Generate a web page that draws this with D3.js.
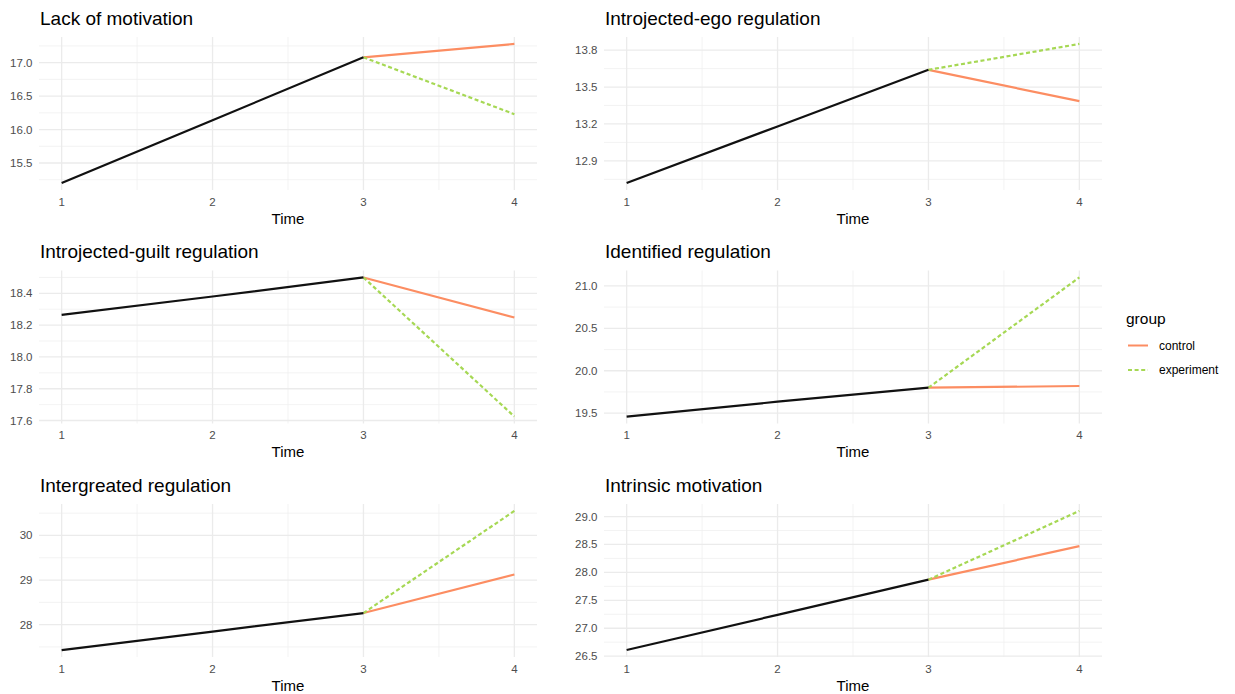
<!DOCTYPE html>
<html>
<head>
<meta charset="utf-8">
<script src="https://cdn.jsdelivr.net/npm/d3@7"></script>
<style>
  body { margin: 0; background: #fff; }
  svg { font-family: "Liberation Sans", Arial, sans-serif; }
</style>
</head>
<body>
<div id="chart"></div>
<script>
// panel titles, in facet order (left to right, top to bottom)
var titles = ["Lack of motivation", "Introjected-ego regulation", "Introjected-guilt regulation",
              "Identified regulation", "Intergreated regulation", "Intrinsic motivation"];

var times = [1, 2, 3, 4];
var preTimes = [1, 2, 3];

// shared trajectory for time 1..3
var preValues = [
  [15.20, 16.14, 17.08],
  [12.72, 13.18, 13.64],
  [18.265, 18.38, 18.50],
  [19.46, 19.635, 19.80],
  [27.43, 27.845, 28.26],
  [26.61, 27.24, 27.87]
];
// time 4 by group
var controlT4 = [17.28, 13.385, 18.248, 19.82, 29.125, 28.47];
var experimentT4 = [16.23, 13.85, 17.625, 21.10, 30.55, 29.10];

var yTicks = [
  [15.5, 16.0, 16.5, 17.0],
  [12.9, 13.2, 13.5, 13.8],
  [17.6, 17.8, 18.0, 18.2, 18.4],
  [19.5, 20.0, 20.5, 21.0],
  [28, 29, 30],
  [26.5, 27.0, 27.5, 28.0, 28.5, 29.0]
];
var yDigits = [1, 1, 1, 1, 0, 1];

var groups = ["control", "experiment"];
var groupColor = {control: "#FC8D62", experiment: "#A6D854"};
var groupDash = {control: null, experiment: "4,2.6"};

var width = 1235, height = 694;
var panelW = 498, panelH = 153;
var colX = [39, 604], rowY = [37, 270.5, 504];

var svg = d3.select("#chart").append("svg")
    .attr("width", width)
    .attr("height", height);

titles.forEach(function(title, i) {
  var col = i % 2, row = Math.floor(i / 2);
  var g = svg.append("g")
      .attr("transform", "translate(" + colX[col] + "," + rowY[row] + ")");

  var x = d3.scaleLinear()
      .domain([1 - 0.15, 4 + 0.15])
      .range([0, panelW]);

  var all = preValues[i].concat([controlT4[i], experimentT4[i]]);
  var ext = d3.extent(all), pad = (ext[1] - ext[0]) * 0.05;
  var y = d3.scaleLinear()
      .domain([ext[0] - pad, ext[1] + pad])
      .range([panelH, 0]);

  var ticks = yTicks[i].filter(function(t) { return t >= y.domain()[0] && t <= y.domain()[1]; });
  var step = yTicks[i][1] - yTicks[i][0];
  var minor = [yTicks[i][0] - step / 2].concat(yTicks[i].map(function(t) { return t + step / 2; }))
      .filter(function(t) { return t >= y.domain()[0] && t <= y.domain()[1]; });

  // minor grid
  g.selectAll(".ymin").data(minor).enter().append("line")
      .attr("x1", 0).attr("x2", panelW)
      .attr("y1", function(d) { return y(d); }).attr("y2", function(d) { return y(d); })
      .attr("stroke", "#f0f0f0").attr("stroke-width", 0.8);
  g.selectAll(".xmin").data([1.5, 2.5, 3.5]).enter().append("line")
      .attr("y1", 0).attr("y2", panelH)
      .attr("x1", function(d) { return x(d); }).attr("x2", function(d) { return x(d); })
      .attr("stroke", "#f0f0f0").attr("stroke-width", 0.8);

  // major grid
  g.selectAll(".ymaj").data(ticks).enter().append("line")
      .attr("x1", 0).attr("x2", panelW)
      .attr("y1", function(d) { return y(d); }).attr("y2", function(d) { return y(d); })
      .attr("stroke", "#ebebeb").attr("stroke-width", 1.3);
  g.selectAll(".xmaj").data(times).enter().append("line")
      .attr("y1", 0).attr("y2", panelH)
      .attr("x1", function(d) { return x(d); }).attr("x2", function(d) { return x(d); })
      .attr("stroke", "#ebebeb").attr("stroke-width", 1.3);

  // axes labels
  var fmt = d3.format("." + yDigits[i] + "f");
  g.selectAll(".ylab").data(ticks).enter().append("text")
      .attr("x", -6.5)
      .attr("y", function(d) { return y(d); })
      .attr("dy", "0.35em")
      .attr("text-anchor", "end")
      .attr("font-size", 11.5)
      .attr("fill", "#4d4d4d")
      .text(function(d) { return fmt(d); });

  g.selectAll(".xlab").data(times).enter().append("text")
      .attr("x", function(d) { return x(d); })
      .attr("y", panelH + 15.5)
      .attr("text-anchor", "middle")
      .attr("font-size", 11.5)
      .attr("fill", "#4d4d4d")
      .text(function(d) { return d; });

  g.append("text")
      .attr("x", panelW / 2)
      .attr("y", panelH + 33.5)
      .attr("text-anchor", "middle")
      .attr("font-size", 15)
      .attr("fill", "#000")
      .text("Time");

  g.append("text")
      .attr("x", 1)
      .attr("y", -12.5)
      .attr("font-size", 19)
      .attr("fill", "#000")
      .text(title);

  var line = d3.line()
      .x(function(d) { return x(d.t); })
      .y(function(d) { return y(d.v); });

  // groups after split
  var ends = {control: controlT4[i], experiment: experimentT4[i]};
  groups.forEach(function(gr) {
    g.append("path")
        .datum([{t: 3, v: preValues[i][2]}, {t: 4, v: ends[gr]}])
        .attr("d", line)
        .attr("fill", "none")
        .attr("stroke", groupColor[gr])
        .attr("stroke-width", 2.2)
        .attr("stroke-dasharray", groupDash[gr]);
  });

  g.append("path")
      .datum(preTimes.map(function(t, k) { return {t: t, v: preValues[i][k]}; }))
      .attr("d", line)
      .attr("fill", "none")
      .attr("stroke", "#111")
      .attr("stroke-width", 2.2);
});

// legend
var legend = svg.append("g").attr("transform", "translate(1126,0)");
legend.append("text")
    .attr("x", 0).attr("y", 323.5)
    .attr("font-size", 15.5)
    .attr("fill", "#000")
    .text("group");

groups.forEach(function(gr, k) {
  var ly = 345.5 + k * 24.5;
  legend.append("line")
      .attr("x1", 2).attr("x2", 22)
      .attr("y1", ly).attr("y2", ly)
      .attr("stroke", groupColor[gr])
      .attr("stroke-width", 2)
      .attr("stroke-dasharray", groupDash[gr]);
  legend.append("text")
      .attr("x", 33).attr("y", ly)
      .attr("dy", "0.35em")
      .attr("font-size", 12)
      .attr("fill", "#000")
      .text(gr);
});
</script>
</body>
</html>
